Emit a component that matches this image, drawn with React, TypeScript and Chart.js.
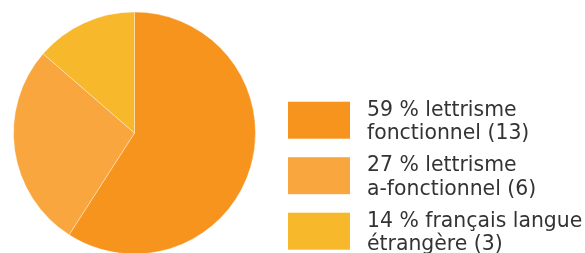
import React, { useEffect, useRef } from "react";
import { Chart, registerables } from "chart.js";

Chart.register(...registerables);

const categories = ["lettrisme fonctionnel", "lettrisme a-fonctionnel", "français langue étrangère"];
const values = [13, 6, 3];
const legendLines = [
  ["59 % lettrisme", "fonctionnel (13)"],
  ["27 % lettrisme", "a-fonctionnel (6)"],
  ["14 % français langue", "étrangère (3)"],
];
const colors = ["#F7941E", "#F9A63F", "#F7B82B"];

const legendPlugin = {
  id: "customLegend",
  afterDraw(chart: any) {
    const ctx = chart.ctx;
    const bg = chart.data.datasets[0].backgroundColor as string[];
    ctx.save();
    legendLines.forEach((lines, i) => {
      const y0 = 101.7 + i * 55.5;
      ctx.fillStyle = bg[i];
      ctx.fillRect(288, y0, 62, 37);
      ctx.fillStyle = "#333333";
      ctx.font = "20.4px 'DejaVu Sans'";
      ctx.textBaseline = "alphabetic";
      ctx.textAlign = "left";
      lines.forEach((t, j) => {
        ctx.fillText(t, 367, 115.7 + i * 55.5 + j * 23.3);
      });
    });
    ctx.restore();
  },
};

export default function App() {
  const ref = useRef<HTMLCanvasElement | null>(null);
  useEffect(() => {
    if (!ref.current) return;
    const chart = new Chart(ref.current, {
      type: "pie",
      data: {
        labels: categories,
        datasets: [
          {
            data: values,
            backgroundColor: colors,
            borderColor: "rgba(255,255,255,0.6)",
            borderWidth: 0.6,
            radius: 121,
          } as any,
        ],
      },
      options: {
        responsive: false,
        animation: false,
        layout: { padding: { left: 13, right: 329, top: 13, bottom: 0 } },
        plugins: { legend: { display: false }, tooltip: { enabled: false } },
      },
      plugins: [legendPlugin],
    });
    return () => chart.destroy();
  }, []);
  return (
    <div style={{ position: "fixed", left: 0, top: 0, width: 585, height: 253, background: "#fff" }}>
      <canvas ref={ref} width={585} height={253} style={{ width: 585, height: 253 }} />
    </div>
  );
}
